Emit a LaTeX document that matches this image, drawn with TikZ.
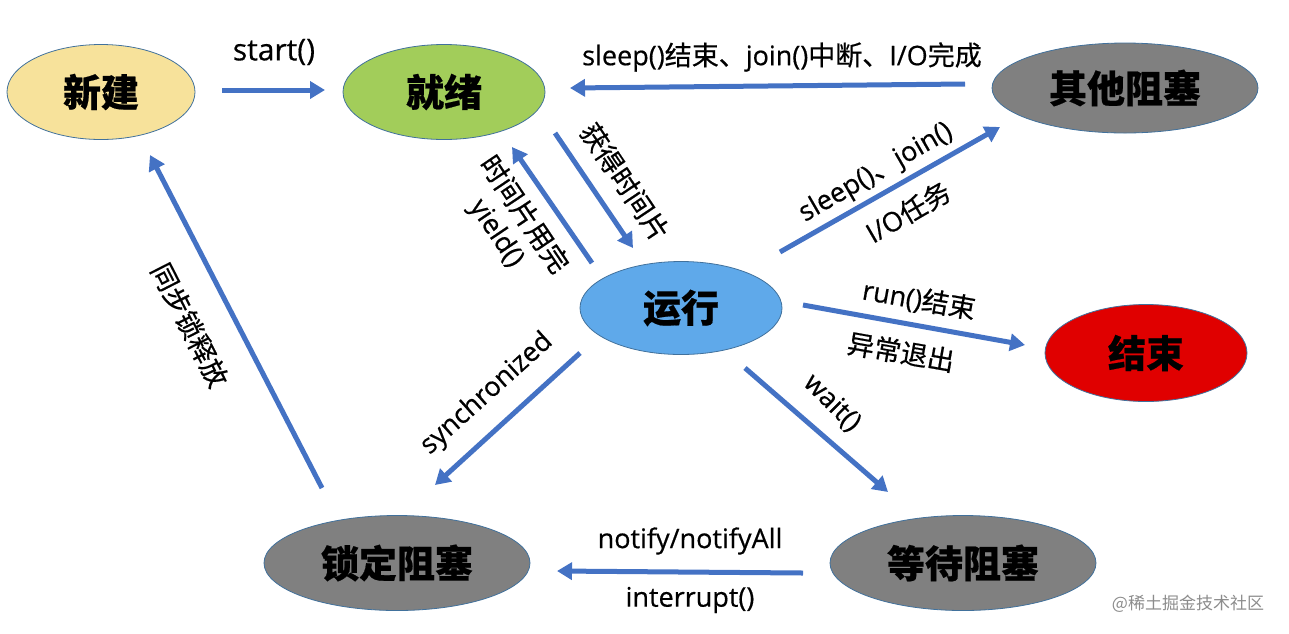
\documentclass[tikz,border=0pt]{standalone}
\usepackage{fontspec}
\setmainfont{Noto Sans CJK SC}[FakeBold=0.5]
\newfontfamily\lat{Open Sans}[FakeBold=0.5]
\newfontfamily\wmfont{Noto Sans CJK SC}
\usetikzlibrary{shapes.geometric,arrows.meta}
\definecolor{arrowblue}{HTML}{4472C4}
\definecolor{edgeblue}{HTML}{41719C}
\definecolor{cnew}{HTML}{F7E29B}
\definecolor{cready}{HTML}{A2CD5A}
\definecolor{cgray}{HTML}{808080}
\definecolor{crun}{HTML}{5FA9EA}
\definecolor{cend}{HTML}{E00000}
\begin{document}
\begin{tikzpicture}[x=1pt,y=-1pt,
  state/.style={ellipse,draw=edgeblue,line width=0.8pt,inner sep=0pt,
    font=\fontsize{38}{42}\selectfont\bfseries},
  small/.style={state,minimum width=202pt,minimum height=95pt},
  wide/.style={state,minimum width=266pt,minimum height=93pt},
  arr/.style={draw=arrowblue,line width=5pt,-{Triangle[length=15pt,width=17pt]}},
  lbl/.style={font=\fontsize{27}{32}\selectfont,inner sep=1pt,align=center}]
\useasboundingbox (0,0) rectangle (1289,633);
% states
\node[small,fill=cnew,minimum width=188pt] (new) at (101,92) {新建};
\node[small,fill=cready] (ready) at (444,92) {就绪};
\node[wide,fill=cgray,minimum height=90pt] (other) at (1125,88) {其他阻塞};
\node[small,fill=crun,minimum height=93pt] (run) at (681,308) {运行};
\node[small,fill=cend,minimum height=97pt] (end) at (1146,353) {结束};
\node[wide,fill=cgray,minimum height=95pt] (lock) at (397,563) {锁定阻塞};
\node[wide,fill=cgray,minimum height=95pt] (wait) at (963,563) {等待阻塞};
% connectors
\draw[arr] ([shift={(121,-2)}]new.center) -- ([shift={(-119,-2)}]ready.center);
\draw[arr] ([shift={(-160,-4)}]other.center) -- ([shift={(126,-4)}]ready.center);
\draw[arr] ([shift={(111,41)}]ready.center) -- ([shift={(-48,-60)}]run.center);
\draw[arr] ([shift={(-89,-45)}]run.center) -- ([shift={(68,55)}]ready.center);
\draw[arr] ([shift={(99,-56)}]run.center) -- ([shift={(-125,39)}]other.center);
\draw[arr] ([shift={(122,-3)}]run.center) -- ([shift={(-121,-8)}]end.center);
\draw[arr] ([shift={(-101,45)}]run.center) -- ([shift={(38,-78)}]lock.center);
\draw[arr] ([shift={(64,60)}]run.center) -- ([shift={(-75,-71)}]wait.center);
\draw[arr] ([shift={(-160,10)}]wait.center) -- ([shift={(160,8)}]lock.center);
\draw[arr] ([shift={(-75,-75)}]lock.center) -- ([shift={(49,63)}]new.center);
% labels
\node[lbl,font=\fontsize{30}{34}\selectfont] (lstart) at (274,52) {\lat start()};
\node[lbl] (lother) at (782,57) {{\lat sleep()}结束、{\lat join()}中断、{\lat I/O}完成};
\node[lbl,rotate=-56] (lget) at (625,182) {获得时间片};
\node[lbl,rotate=-56] (lyield) at (510,224) {时间片用完\\{\lat yield()}};
\node[lbl,rotate=30] (lsleep) at (876,173) {{\lat sleep()}、{\lat join()}};
\node[lbl,rotate=30] (lio) at (908,212) {{\lat I/O}任务};
\node[lbl,rotate=-10] (lrun) at (919,300) {{\lat run()}结束};
\node[lbl,rotate=-10] (lexc) at (901,352) {异常退出};
\node[lbl,rotate=42] (lsync) at (487,394) {\lat synchronized};
\node[lbl,rotate=-45] (lwaitf) at (832,403) {\lat wait()};
\node[lbl] (lnotify) at (690,541) {\lat notify/notifyAll};
\node[lbl] (lint) at (690,600) {\lat interrupt()};
\node[lbl,rotate=-63] (lrel) at (190,325) {同步锁释放};
\node[font=\fontsize{17}{19}\selectfont\wmfont,text=black!45] (wm) at (1188,604) {@稀土掘金技术社区};
\end{tikzpicture}
\end{document}
